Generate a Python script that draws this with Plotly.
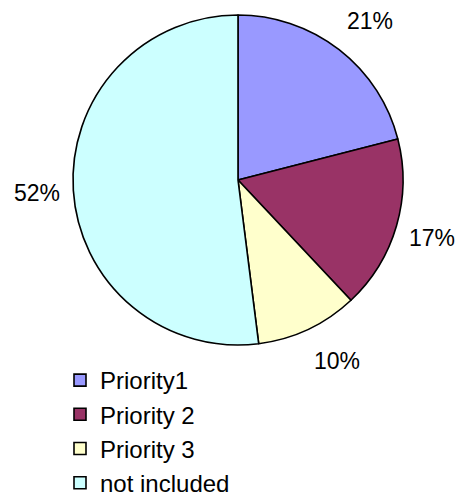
import math
import plotly.graph_objects as go

# Share of items by priority class
labels = ["Priority1", "Priority 2", "Priority 3", "not included"]
values = [21, 17, 10, 52]
colors = ["#9999FF", "#993366", "#FFFFCC", "#CCFFFF"]

W, H = 462, 496
# Pie placement in pixels (centre and radius)
CX, CY, R = 238, 180, 165
# Distance from the centre to the label's inner corner (horizontal / vertical)
LABEL_DX, LABEL_DY = 178, 190
# Approximate size of a label's glyph box, in pixels
BOX_W, BOX_H = 46, 18
FONT = "Liberation Sans, Arial, sans-serif"

fig = go.Figure(
    go.Pie(
        labels=labels,
        values=values,
        sort=False,
        direction="clockwise",
        rotation=0,
        marker=dict(colors=colors, line=dict(color="#000000", width=1.6)),
        textinfo="none",
        hoverinfo="label+percent",
        domain=dict(
            x=[(CX - R) / W, (CX + R) / W],
            y=[1 - (CY + R) / H, 1 - (CY - R) / H],
        ),
    )
)

# Percentage labels: the label corner nearest the pie sits on the slice's mid-angle
total = sum(values)
cum = 0
for v in values:
    mid = (cum + v / 2) / total * 2 * math.pi
    cum += v
    ux, uy = math.sin(mid), -math.cos(mid)
    off_x = BOX_W / 2 * math.copysign(1, ux)
    off_y = BOX_H / 2 * math.copysign(min(1.0, abs(uy) / 0.5), uy)
    px = CX + LABEL_DX * ux + off_x
    py = CY + LABEL_DY * uy + off_y
    fig.add_annotation(
        x=px / W, y=1 - py / H, xref="paper", yref="paper",
        text=f"{round(v / total * 100)}%", showarrow=False,
        xanchor="center", yanchor="middle",
        font=dict(family=FONT, size=23, color="#000000"),
    )

fig.update_layout(
    width=W, height=H,
    margin=dict(l=0, r=0, t=0, b=0, autoexpand=False),
    paper_bgcolor="#FFFFFF",
    plot_bgcolor="#FFFFFF",
    showlegend=True,
    legend=dict(
        x=60 / W, y=1 - 358 / H, xanchor="left", yanchor="top",
        font=dict(family=FONT, size=24, color="#000000"),
        bgcolor="rgba(0,0,0,0)", borderwidth=0,
        traceorder="normal",
    ),
)

fig.write_html("out.html")
